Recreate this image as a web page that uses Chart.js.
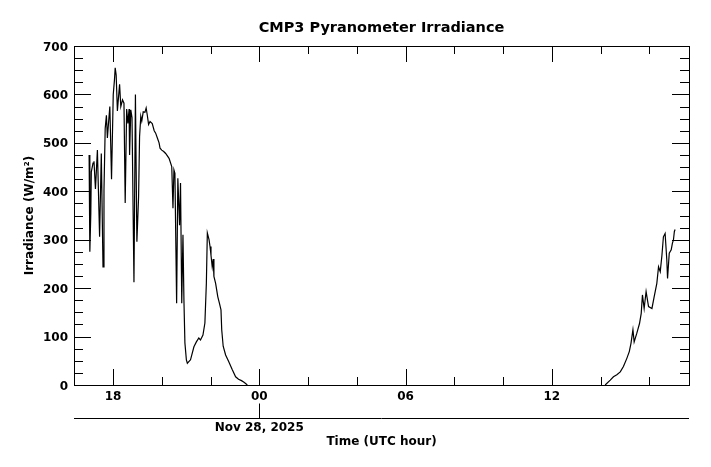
<!DOCTYPE html>
<html>
<head>
<meta charset="utf-8">
<script src="https://cdn.jsdelivr.net/npm/chart.js@4"></script>
<style>
  html, body { margin: 0; padding: 0; background: #fff; }
  canvas { display: block; }
</style>
</head>
<body>
<canvas id="myChart" width="711" height="467"></canvas>
<script>
'use strict'

// hours since Nov 27 00:00 UTC (24 = Nov 28 00:00); null breaks the line overnight
const hours = [
  17.02, 17.05, 17.09, 17.11, 17.18, 17.22, 17.28, 17.36, 17.45, 17.52,
  17.59, 17.63, 17.68, 17.73, 17.77, 17.81, 17.87, 17.94, 18.01, 18.06,
  18.09, 18.13, 18.18, 18.27, 18.32, 18.39, 18.45, 18.50, 18.56, 18.61,
  18.66, 18.68, 18.73, 18.78, 18.86, 18.92, 18.98, 19.05, 19.09, 19.14,
  19.18, 19.24, 19.31, 19.36, 19.41, 19.46, 19.52, 19.61, 19.69, 19.75,
  19.82, 19.89, 19.93, 20.00, 20.08, 20.16, 20.30, 20.41, 20.46, 20.50,
  20.54, 20.61, 20.66, 20.73, 20.77, 20.82, 20.87, 20.91, 20.95, 21.01,
  21.05, 21.18, 21.32, 21.42, 21.52, 21.59, 21.69, 21.77, 21.83, 21.87,
  21.94, 21.98, 22.02, 22.07, 22.11, 22.14, 22.21, 22.30, 22.37, 22.43,
  22.46, 22.52, 22.62, 22.75, 22.89, 23.03, 23.15, 23.27, 23.36, 23.44,
  23.51,
  30.00,
  38.19, 38.40, 38.53, 38.67, 38.81, 38.94, 39.08, 39.18, 39.25, 39.33,
  39.38, 39.49, 39.60, 39.67, 39.72, 39.79, 39.87, 39.97, 40.11, 40.20,
  40.31, 40.38, 40.45, 40.52, 40.58, 40.65, 40.72, 40.75, 40.82, 40.90,
  40.95, 40.99, 41.03, 41.06
];

const irradiance = [
  475, 275, 355, 440, 458, 462, 405, 485, 306, 478,
  244, 403, 530, 557, 510, 537, 575, 425, 600, 630,
  655, 640, 566, 621, 575, 589, 582, 376, 570, 540,
  570, 475, 568, 552, 212, 600, 296, 389, 513, 555,
  545, 564, 563, 572, 556, 538, 544, 540, 525, 520,
  510, 500, 489, 485, 482, 478, 468, 451, 365, 444,
  437, 169, 427, 330, 417, 169, 310, 175, 87, 52,
  45, 52, 79, 89, 97, 93, 103, 128, 210, 314,
  300, 286, 268, 244, 260, 224, 210, 182, 168, 155,
  114, 80, 62, 48, 32, 17, 12, 9, 6, 3,
  0,
  null,
  0, 10, 17, 21, 27, 38, 55, 69, 86, 114,
  89, 107, 127, 148, 186, 158, 193, 162, 158, 182,
  210, 244, 234, 268, 306, 313, 258, 220, 272, 279,
  293, 299, 317, 321
];

const xMin = 16.40;
const xMax = 41.63;
const xMajorTicks = [18, 24, 30, 36];
const xTickLabels = ['18', '00', '06', '12'];
const xMinorTicks = [20, 22, 26, 28, 32, 34, 38, 40];
const dateTick = 24;
const dateLabel = 'Nov 28, 2025';
const yMax = 700;

const FONT = 'DejaVu Sans';

const points = hours.map((h, i) => ({ x: h, y: irradiance[i] }));

// IDL-style inward ticks on all four sides, plus the date axis underneath
const frameTicks = {
  id: 'frameTicks',
  afterDraw(chart) {
    const ctx = chart.ctx;
    const a = chart.chartArea;
    const xs = chart.scales.x;
    const ys = chart.scales.y;
    ctx.save();
    ctx.strokeStyle = '#000';
    ctx.lineWidth = 1;
    ctx.strokeRect(Math.round(a.left) + 0.5, Math.round(a.top) + 0.5,
      Math.round(a.right - a.left), Math.round(a.bottom - a.top));
    ctx.beginPath();
    function vtick(v, len) {
      const px = Math.round(xs.getPixelForValue(v)) + 0.5;
      ctx.moveTo(px, a.bottom); ctx.lineTo(px, a.bottom - len);
      ctx.moveTo(px, a.top); ctx.lineTo(px, a.top + len);
    }
    function htick(v, len) {
      const py = Math.round(ys.getPixelForValue(v)) + 0.5;
      ctx.moveTo(a.left, py); ctx.lineTo(a.left + len, py);
      ctx.moveTo(a.right, py); ctx.lineTo(a.right - len, py);
    }
    xMajorTicks.forEach(v => vtick(v, 16));
    xMinorTicks.forEach(v => vtick(v, 8));
    for (let v = 0; v <= yMax; v += 25) {
      htick(v, v % 100 === 0 ? 17 : 9);
    }
    // second (date) axis
    const y2 = Math.round(chart.scales.x2.top) + 0.5;
    ctx.moveTo(a.left, y2); ctx.lineTo(a.right, y2);
    const dx = Math.round(xs.getPixelForValue(dateTick)) + 0.5;
    ctx.moveTo(dx, y2); ctx.lineTo(dx, y2 - 15);
    ctx.stroke();
    ctx.restore();
  }
};

new Chart(document.getElementById('myChart'), {
  type: 'line',
  data: {
    datasets: [{
      data: points,
      borderColor: '#000',
      borderWidth: 1.2,
      pointRadius: 0,
      tension: 0,
      spanGaps: false
    }]
  },
  options: {
    responsive: false,
    animation: false,
    devicePixelRatio: 1,
    layout: { padding: { left: 0, right: 22, top: 0, bottom: 0 } },
    plugins: {
      legend: { display: false },
      tooltip: { enabled: false },
      title: {
        display: true,
        text: 'CMP3 Pyranometer Irradiance',
        color: '#000',
        fullSize: false,
        font: { family: FONT, size: 14.5, weight: 'bold' },
        padding: { top: 20, bottom: 8.6 }
      }
    },
    scales: {
      x: {
        type: 'linear',
        position: 'bottom',
        min: xMin,
        max: xMax,
        grid: { display: false, drawTicks: false, tickLength: 0 },
        border: { display: false },
        afterBuildTicks(scale) {
          scale.ticks = xMajorTicks.map(v => ({ value: v }));
        },
        afterFit(scale) { scale.height = 33; },
        ticks: {
          autoSkip: false,
          maxRotation: 0,
          padding: 5,
          color: '#000',
          font: { family: FONT, size: 12, weight: 'bold' },
          callback(v) {
            const i = xMajorTicks.indexOf(v);
            return i >= 0 ? xTickLabels[i] : '';
          }
        }
      },
      x2: {
        type: 'linear',
        position: 'bottom',
        min: xMin,
        max: xMax,
        grid: { display: false, drawTicks: false, tickLength: 0 },
        border: { display: false },
        afterBuildTicks(scale) {
          scale.ticks = [{ value: dateTick }];
        },
        afterFit(scale) { scale.height = 49; },
        ticks: {
          autoSkip: false,
          maxRotation: 0,
          padding: 3,
          color: '#000',
          font: { family: FONT, size: 12, weight: 'bold' },
          callback() { return dateLabel; }
        },
        title: {
          display: true,
          text: 'Time (UTC hour)',
          color: '#000',
          font: { family: FONT, size: 12, weight: 'bold' },
          padding: { top: 0, bottom: 18 }
        }
      },
      y: {
        type: 'linear',
        min: 0,
        max: yMax,
        grid: { display: false, drawTicks: false, tickLength: 0 },
        border: { display: false },
        afterFit(scale) { scale.width = 74; },
        ticks: {
          stepSize: 100,
          padding: 6,
          labelOffset: 1.5,
          color: '#000',
          font: { family: FONT, size: 12, weight: 'bold' }
        },
        title: {
          display: true,
          text: 'Irradiance (W/m²)',
          color: '#000',
          font: { family: FONT, size: 12, weight: 'bold' },
          padding: { top: 23, bottom: 0 }
        }
      }
    }
  },
  plugins: [frameTicks]
});
</script>
</body>
</html>
